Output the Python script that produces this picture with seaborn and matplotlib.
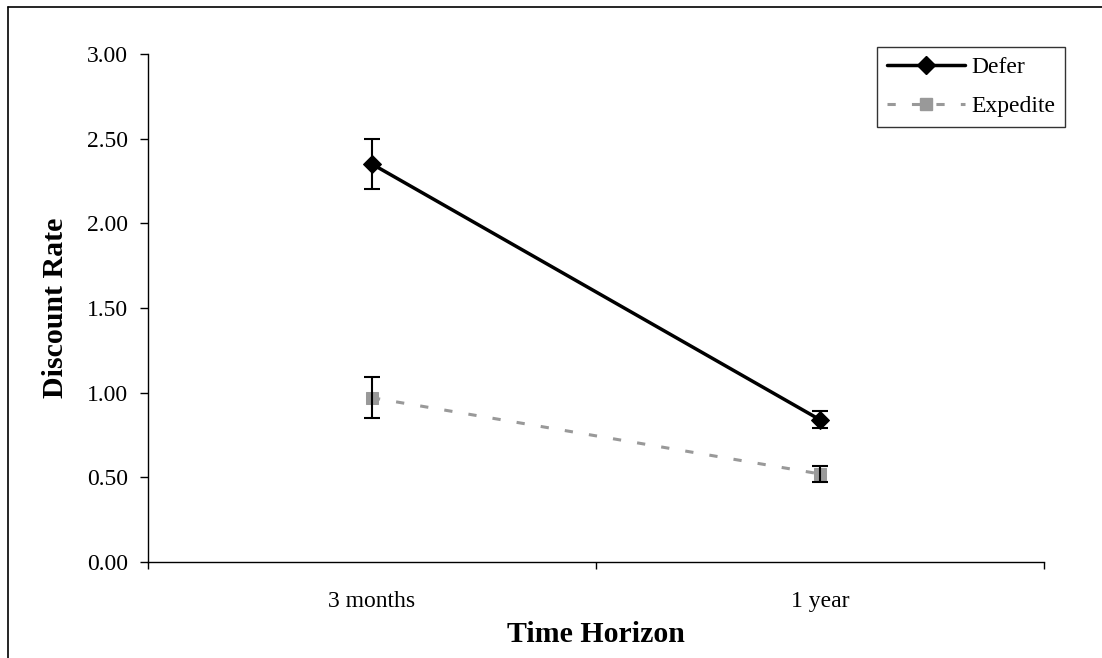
import matplotlib
matplotlib.use("Agg")
import matplotlib.pyplot as plt
import seaborn as sns
import pandas as pd
from matplotlib.lines import Line2D

categories = ["3 months", "1 year"]
defer_vals = [2.35, 0.84]
defer_err = [0.15, 0.05]
expedite_vals = [0.97, 0.52]
expedite_err = [0.12, 0.045]
yticks = [0.0, 0.5, 1.0, 1.5, 2.0, 2.5, 3.0]

sns.set_theme(style="white")
plt.rcParams['font.family'] = ['Liberation Serif', 'DejaVu Serif']
plt.rcParams['text.color'] = 'black'
plt.rcParams['axes.labelcolor'] = 'black'
plt.rcParams['xtick.color'] = 'black'
plt.rcParams['ytick.color'] = 'black'

TICK_FS = 17
LABEL_FS = 21.5
GRAY = "#999999"
DASH = (2.7, 5.3)

fig = plt.figure(figsize=(11.02, 6.58), dpi=100)
ax = fig.add_axes([148/1102, 1 - 562/658, (1044-148)/1102, (562-54)/658])

pos = list(range(len(categories)))
df = pd.DataFrame({
    "x": pos * 2,
    "y": defer_vals + expedite_vals,
    "series": ["Defer"] * 2 + ["Expedite"] * 2,
})

sns.lineplot(data=df[df.series == "Defer"], x="x", y="y", ax=ax, color="black",
             lw=2.5, marker="D", markersize=9, markeredgecolor="black", legend=False)
sns.lineplot(data=df[df.series == "Expedite"], x="x", y="y", ax=ax, color=GRAY,
             lw=2.2, marker="s", markersize=8.5, markeredgecolor=GRAY, legend=False,
             dashes=False)
ax.lines[-1].set_dashes(DASH)

for vals, errs in [(defer_vals, defer_err), (expedite_vals, expedite_err)]:
    ax.errorbar(pos, vals, yerr=errs, fmt="none", ecolor="black",
                elinewidth=1.5, capsize=5.8, capthick=1.5, zorder=5)

ax.set_xlim(-0.5, 1.5)
ax.set_ylim(0, 3)
ax.set_yticks(yticks)
ax.set_yticklabels([f"{v:.2f}" for v in yticks], fontsize=TICK_FS, color="black")
ax.set_xticks([-0.5, 0.5, 1.5])
ax.set_xticklabels([])
ax.set_xticks(pos, minor=True)
ax.set_xticklabels(categories, minor=True, fontsize=TICK_FS, color="black")
ax.tick_params(axis="x", which="major", direction="out", length=5, width=1, color="black", bottom=True)
ax.tick_params(axis="x", which="minor", length=0, pad=21)
ax.tick_params(axis="y", direction="out", length=6, width=1, color="black", left=True, pad=8.5)

for s in ["top", "right"]:
    ax.spines[s].set_visible(False)
for s in ["left", "bottom"]:
    ax.spines[s].set_color("black")
    ax.spines[s].set_linewidth(1)

ax.set_xlabel("Time Horizon", fontsize=LABEL_FS, fontweight="bold", color="black")
ax.set_ylabel("Discount Rate", fontsize=LABEL_FS, fontweight="bold", color="black")
ax.xaxis.set_label_coords(596/1102, 1 - 635/658, transform=fig.transFigure)
ax.xaxis.label.set_va("center")
ax.yaxis.set_label_coords(56/1102, 1 - 308/658, transform=fig.transFigure)
ax.yaxis.label.set_va("center")

handles = [
    Line2D([], [], color="black", lw=2.5, marker="D", markersize=9),
    Line2D([], [], color=GRAY, lw=2.2, marker="s", markersize=8.5, dashes=DASH),
]
leg = ax.legend(handles, ["Defer", "Expedite"], loc="upper right",
                bbox_to_anchor=(1065/1102, 1 - 47/658), bbox_transform=fig.transFigure,
                fontsize=TICK_FS, frameon=True, fancybox=False, edgecolor="black",
                handlelength=3.3, handletextpad=0.25, borderpad=0.42, labelspacing=0.72,
                borderaxespad=0)
leg.get_frame().set_linewidth(1)
for t in leg.get_texts():
    t.set_color("black")

# outer chart-area frame (left and top edges)
fig.add_artist(Line2D([8/1102, 8/1102], [0, 1 - 6.5/658], transform=fig.transFigure,
                      color="black", lw=1.2))
fig.add_artist(Line2D([8/1102, 1], [1 - 6.5/658, 1 - 6.5/658], transform=fig.transFigure,
                      color="black", lw=1.2))

fig.savefig("out.png", dpi=100)
